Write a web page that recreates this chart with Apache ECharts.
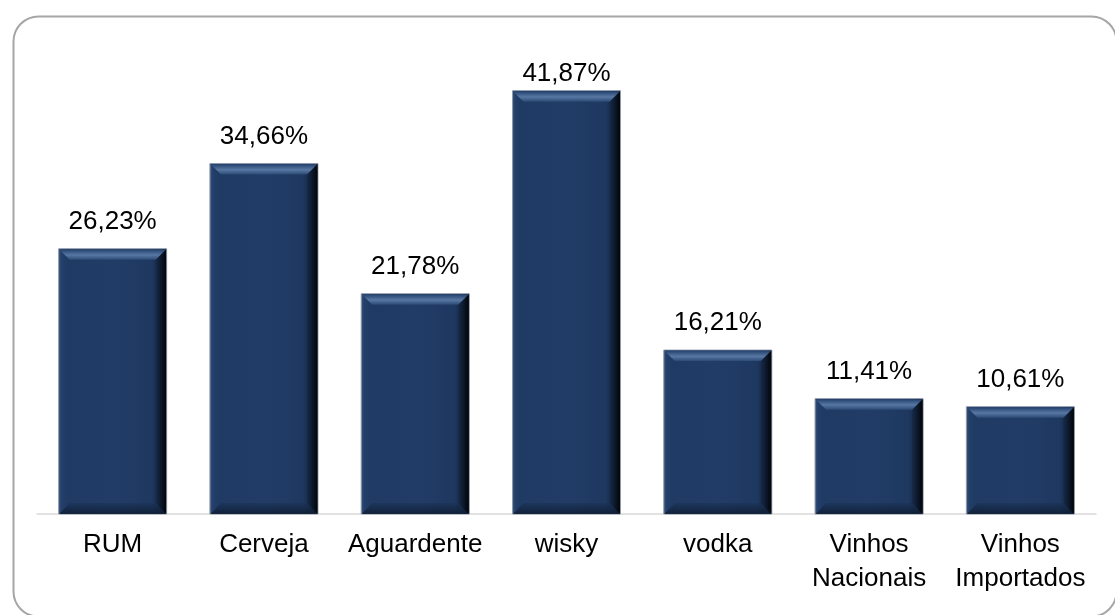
<!DOCTYPE html>
<html>
<head>
<meta charset="utf-8">
<style>
  html, body { margin: 0; padding: 0; background: #ffffff; }
  #chart { width: 1115px; height: 615px; }
</style>
<script src="https://cdn.jsdelivr.net/npm/echarts@6/dist/echarts.min.js"></script>
</head>
<body>
<div id="chart"></div>
<script>
// Consumo por tipo de bebida (%)
const categories = ['RUM', 'Cerveja', 'Aguardente', 'wisky', 'vodka', 'Vinhos\nNacionais', 'Vinhos\nImportados'];
const values = [26.23, 34.66, 21.78, 41.87, 16.21, 11.41, 10.61];

const FONT = '"Liberation Sans", Arial, sans-serif';
const GRID_TOP = 59;
const BAR_RATIO = 0.714;

function fmt(v) {
  return v.toFixed(2).replace('.', ',') + '%';
}

// Bevelled bar: body, top/bottom/left/right facets and its value label
function renderBar(params, api) {
  const idx = api.value(0);
  const val = api.value(1);
  const top = api.coord([idx, val]);
  const base = api.coord([idx, 0]);
  const w = api.size([1, 0])[0] * BAR_RATIO;
  const x0 = top[0] - w / 2;
  const x1 = top[0] + w / 2;
  const y0 = top[1];
  const y1 = base[1];
  const h = y1 - y0;
  const b = Math.min(11, h / 2);

  const body = {
    type: 'rect',
    shape: { x: x0, y: y0, width: w, height: h },
    style: {
      fill: new echarts.graphic.LinearGradient(0, 0, 1, 0, [
        { offset: 0, color: '#3a5681' },
        { offset: 0.03, color: '#243f69' },
        { offset: 0.08, color: '#1f3a63' },
        { offset: 0.5, color: '#213d67' },
        { offset: 0.86, color: '#1e3860' },
        { offset: 0.93, color: '#142845' },
        { offset: 1, color: '#040810' }
      ]),
      stroke: '#8f99a8',
      lineWidth: 1
    }
  };
  const topFacet = {
    type: 'polygon',
    shape: { points: [[x0 + 0.5, y0 + 0.5], [x1 - 0.5, y0 + 0.5], [x1 - b, y0 + b], [x0 + b, y0 + b]] },
    style: {
      fill: new echarts.graphic.LinearGradient(0, 0, 0, 1, [
        { offset: 0, color: '#22406b' },
        { offset: 0.55, color: '#5878a3' },
        { offset: 1, color: '#2b4a75' }
      ])
    }
  };
  const rightFacet = {
    type: 'polygon',
    shape: { points: [[x1 - 0.5, y0 + 0.5], [x1 - 0.5, y1], [x1 - b, y1 - b], [x1 - b, y0 + b]] },
    style: {
      fill: new echarts.graphic.LinearGradient(0, 0, 1, 0, [
        { offset: 0, color: 'rgba(20,38,66,0.6)' },
        { offset: 1, color: 'rgba(2,5,10,0.95)' }
      ])
    }
  };
  const bottomFacet = {
    type: 'polygon',
    shape: { points: [[x0 + 0.5, y1], [x1 - 0.5, y1], [x1 - b, y1 - b], [x0 + b, y1 - b]] },
    style: {
      fill: new echarts.graphic.LinearGradient(0, 0, 0, 1, [
        { offset: 0, color: 'rgba(26,48,82,0.5)' },
        { offset: 1, color: 'rgba(14,28,50,0.9)' }
      ])
    }
  };
  const labelY = Math.max(y0 - 14, GRID_TOP + 28);
  const label = {
    type: 'text',
    style: {
      text: fmt(val),
      x: top[0],
      y: labelY,
      align: 'center',
      verticalAlign: 'bottom',
      fill: '#000000',
      font: '26px ' + FONT
    }
  };
  return { type: 'group', children: [body, bottomFacet, rightFacet, topFacet, label] };
}

const chart = echarts.init(document.getElementById('chart'), null, { renderer: 'canvas' });
chart.setOption({
  animation: false,
  backgroundColor: '#ffffff',
  graphic: [{
    type: 'rect',
    left: 11, top: 14,
    shape: { x: 0, y: 0, width: 1103, height: 600, r: 25 },
    style: { fill: 'none', stroke: '#a6a6a6', lineWidth: 2 },
    z: 100
  }],
  grid: { left: 37, right: 19, top: GRID_TOP, bottom: 101, containLabel: false },
  xAxis: {
    type: 'category',
    data: categories,
    axisLine: { show: true, lineStyle: { color: '#d9d9d9', width: 1.5 } },
    axisTick: { show: false },
    axisLabel: {
      color: '#000000',
      fontFamily: FONT,
      fontSize: 26,
      lineHeight: 34,
      margin: 14,
      interval: 0
    }
  },
  yAxis: {
    type: 'value',
    min: 0,
    max: 45,
    show: false,
    splitLine: { show: false }
  },
  series: [{
    type: 'custom',
    renderItem: renderBar,
    data: values.map((v, i) => [i, v]),
    encode: { x: 0, y: 1 },
    clip: false
  }]
});
</script>
</body>
</html>
